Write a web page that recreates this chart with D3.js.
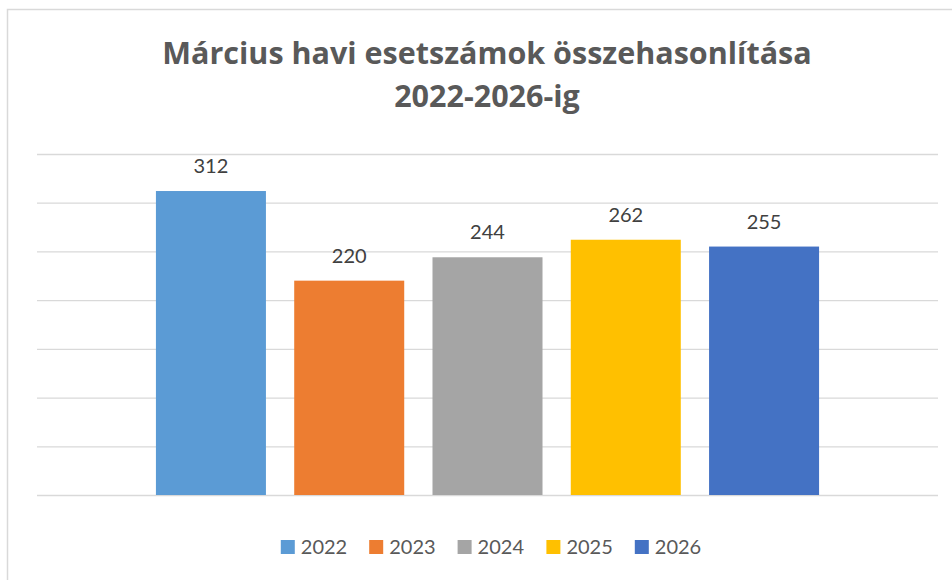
<!DOCTYPE html>
<html>
<head>
<meta charset="utf-8">
<script src="https://cdn.jsdelivr.net/npm/d3@7"></script>
<style>
  body { margin: 0; background: #fff; }
  text { font-family: Lato, "Open Sans", sans-serif; }
</style>
</head>
<body>
<div id="graphic"></div>
<script>
// chart data
const years = ["2022", "2023", "2024", "2025", "2026"];
const cases = [312, 220, 244, 262, 255];
const colors = ["#5b9bd5", "#ed7d31", "#a5a5a5", "#ffc000", "#4472c4"];
const yTicks = [0, 50, 100, 150, 200, 250, 300, 350];
const titleLines = ["Március havi esetszámok összehasonlítása", "2022-2026-ig"];

let W = 952, H = 580;
let margin = {top: 154, right: 14, bottom: 85, left: 37};
let width = W - margin.left - margin.right;
let height = H - margin.top - margin.bottom;

let svg = d3.select("#graphic")
  .append("svg")
    .attr("width", W)
    .attr("height", H);

// chart area border (runs off the right and bottom edges)
svg.append("rect")
  .attr("x", 7.5).attr("y", 9.5)
  .attr("width", W + 20).attr("height", H + 20)
  .attr("fill", "#fff")
  .attr("stroke", "#d9d9d9")
  .attr("stroke-width", 1.5);

// title
svg.append("g").selectAll("text")
  .data(titleLines)
  .enter()
  .append("text")
    .attr("x", 487)
    .attr("y", (d, i) => 64 + i * 43)
    .attr("text-anchor", "middle")
    .style("font-family", "'Open Sans', sans-serif")
    .style("font-size", "30.5px")
    .style("font-weight", "bold")
    .style("fill", "#595959")
    .text(d => d);

let g = svg.append("g")
  .attr("transform", "translate(" + margin.left + "," + margin.top + ")");

// scales
let x = d3.scaleBand()
  .domain(years)
  .range([0, width])
  .paddingInner(0.2045)
  .paddingOuter(0.86);

let y = d3.scaleLinear()
  .domain([0, 350])
  .range([height, 0]);

// gridlines
g.append("g")
  .call(d3.axisLeft(y).tickValues(yTicks).tickSize(-width).tickFormat(""))
  .call(a => a.select(".domain").remove())
  .selectAll("line")
    .attr("stroke", "#d9d9d9")
    .attr("stroke-width", 1.3);

// bars
g.selectAll("rect.bar")
  .data(years)
  .enter()
  .append("rect")
    .attr("class", "bar")
    .attr("x", d => x(d))
    .attr("y", (d, i) => y(cases[i]))
    .attr("width", x.bandwidth())
    .attr("height", (d, i) => height - y(cases[i]))
    .attr("fill", (d, i) => colors[i]);

// value labels
g.selectAll("text.lbl")
  .data(years)
  .enter()
  .append("text")
    .attr("class", "lbl")
    .attr("x", d => x(d) + x.bandwidth() / 2)
    .attr("y", (d, i) => y(cases[i]) - 18)
    .attr("text-anchor", "middle")
    .style("font-size", "20px")
    .style("fill", "#404040")
    .text((d, i) => cases[i]);

// legend
let legend = svg.append("g");
let items = legend.selectAll("g")
  .data(years)
  .enter()
  .append("g");
items.append("rect")
  .attr("width", 14).attr("height", 14)
  .attr("y", 540)
  .attr("fill", (d, i) => colors[i]);
items.append("text")
  .attr("x", 20)
  .attr("y", 554)
  .style("font-size", "20px")
  .style("fill", "#595959")
  .text(d => d);

let pos = 0;
let offsets = [];
items.each(function() {
  let w = this.getBBox().width;
  offsets.push(pos);
  pos += w + 22;
});
let total = pos - 22;
let start = 491 - total / 2;
items.attr("transform", (d, i) => "translate(" + (start + offsets[i]) + ",0)");
</script>
</body>
</html>
